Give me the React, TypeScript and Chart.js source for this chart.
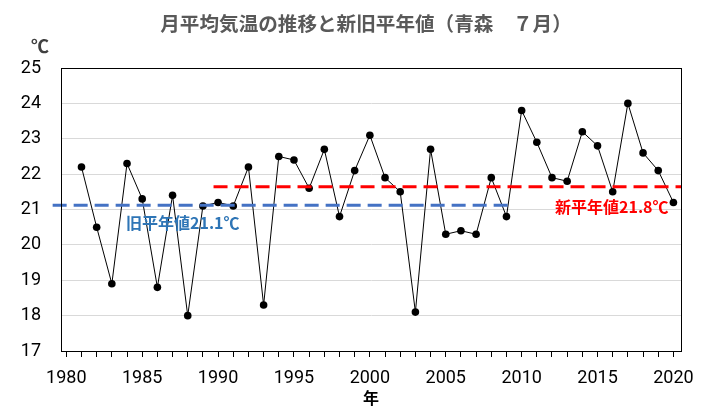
import React, { useEffect, useRef } from "react";
import { Chart, registerables } from "chart.js";

Chart.register(...registerables);

const years: number[] = [
  1981, 1982, 1983, 1984, 1985, 1986, 1987, 1988, 1989, 1990,
  1991, 1992, 1993, 1994, 1995, 1996, 1997, 1998, 1999, 2000,
  2001, 2002, 2003, 2004, 2005, 2006, 2007, 2008, 2009, 2010,
  2011, 2012, 2013, 2014, 2015, 2016, 2017, 2018, 2019, 2020,
];
const temps: number[] = [
  22.2, 20.5, 18.9, 22.3, 21.3, 18.8, 21.4, 18.0, 21.1, 21.2,
  21.1, 22.2, 18.3, 22.5, 22.4, 21.6, 22.7, 20.8, 22.1, 23.1,
  21.9, 21.5, 18.1, 22.7, 20.3, 20.4, 20.3, 21.9, 20.8, 23.8,
  22.9, 21.9, 21.8, 23.2, 22.8, 21.5, 24.0, 22.6, 22.1, 21.2,
];
const xTickYears: number[] = [
  1980, 1981, 1982, 1983, 1984, 1985, 1986, 1987, 1988, 1989, 1990,
  1991, 1992, 1993, 1994, 1995, 1996, 1997, 1998, 1999, 2000,
  2001, 2002, 2003, 2004, 2005, 2006, 2007, 2008, 2009, 2010,
  2011, 2012, 2013, 2014, 2015, 2016, 2017, 2018, 2019, 2020,
];
const oldNormalValue = 21.12;
const oldNormalSpan: number[] = [1979.1, 2009.5];
const newNormalValue = 21.64;
const newNormalSpan: number[] = [1989.7, 2020.5];
const titleText = "月平均気温の推移と新旧平年値（青森　７月）";
const oldNormalLabel = "旧平年値21.1℃";
const newNormalLabel = "新平年値21.8℃";
const unitLabel = "℃";
const xAxisLabel = "年";

const CJK = "'Noto Sans CJK JP', 'Noto Sans', sans-serif";
const NUM = "Roboto, 'Noto Sans', sans-serif";

const overlayPlugin = {
  id: "overlay",
  afterDraw(chart: any) {
    const { ctx, chartArea } = chart;
    ctx.save();
    // box border
    ctx.strokeStyle = "#000";
    ctx.lineWidth = 1;
    ctx.strokeRect(
      Math.round(chartArea.left) + 0.5,
      Math.round(chartArea.top) + 0.5,
      Math.round(chartArea.right - chartArea.left),
      Math.round(chartArea.bottom - chartArea.top)
    );
    // title
    ctx.font = `bold 19.6px ${CJK}`;
    ctx.fillStyle = "#595959";
    ctx.textAlign = "center";
    ctx.textBaseline = "middle";
    ctx.fillText(titleText, 366, 24);
    // unit
    ctx.font = `bold 18px ${CJK}`;
    ctx.fillStyle = "#404040";
    ctx.fillText(unitLabel, 40, 46);
    // normal labels
    ctx.font = `bold 16px ${CJK}`;
    ctx.textAlign = "left";
    ctx.fillStyle = "#2E75B6";
    ctx.fillText(oldNormalLabel, 126, 223);
    ctx.fillStyle = "#FF0000";
    ctx.fillText(newNormalLabel, 555, 207);
    ctx.restore();
  },
};

export default function App() {
  const canvasRef = useRef<HTMLCanvasElement | null>(null);

  useEffect(() => {
    document.body.style.margin = "0";
    const canvas = canvasRef.current;
    if (!canvas) return;
    const chart = new Chart(canvas, {
      type: "line",
      data: {
        datasets: [
          {
            label: "new",
            data: newNormalSpan.map((x) => ({ x, y: newNormalValue })),
            borderColor: "#FF0000",
            borderWidth: 3,
            borderDash: [14, 7],
            pointRadius: 0,
            fill: false,
            clip: false as any,
          },
          {
            label: "old",
            data: oldNormalSpan.map((x) => ({ x, y: oldNormalValue })),
            borderColor: "#4472C4",
            borderWidth: 3,
            borderDash: [14, 7],
            pointRadius: 0,
            fill: false,
            clip: false as any,
          },
          {
            label: "temp",
            data: years.map((x, i) => ({ x, y: temps[i] })),
            borderColor: "#000",
            borderWidth: 1,
            pointRadius: 3.8,
            pointBackgroundColor: "#000",
            pointBorderColor: "#000",
            pointBorderWidth: 0,
            fill: false,
            tension: 0,
          },
        ],
      },
      options: {
        animation: false,
        responsive: false,
        layout: { padding: { left: 0, right: 37, top: 68, bottom: 0 } },
        plugins: {
          legend: { display: false },
          tooltip: { enabled: false },
          title: { display: false },
        },
        scales: {
          x: {
            type: "linear",
            min: 1979.65,
            max: 2020.5,
            afterBuildTicks: (scale: any) => {
              scale.ticks = xTickYears.map((v) => ({ value: v }));
            },
            afterFit: (scale: any) => {
              scale.height = 65;
            },
            ticks: {
              autoSkip: false,
              maxRotation: 0,
              minRotation: 0,
              padding: 11,
              color: "#000",
              font: { family: NUM, size: 18 },
              callback: (v: any) => (Number(v) % 5 === 0 ? String(v) : ""),
            },
            grid: {
              drawOnChartArea: false,
              drawTicks: true,
              tickLength: 6,
              color: "#000",
              tickColor: "#000",
            },
            border: { color: "#000", width: 1 },
            title: {
              display: true,
              text: xAxisLabel,
              color: "#000",
              font: { family: CJK, size: 16, weight: "bold" },
              padding: { top: 0, bottom: 8 },
            },
          },
          y: {
            min: 17,
            max: 25,
            afterFit: (scale: any) => {
              scale.width = 61;
            },
            ticks: {
              stepSize: 1,
              padding: 20,
              color: "#000",
              font: { family: NUM, size: 18 },
            },
            grid: {
              color: "#D9D9D9",
              drawTicks: false,
              lineWidth: 1,
            },
            border: { color: "#000", width: 1 },
          },
        },
      },
      plugins: [overlayPlugin],
    });
    return () => chart.destroy();
  }, []);

  return (
    <div style={{ width: 718, height: 416 }}>
      <canvas ref={canvasRef} width={718} height={416} />
    </div>
  );
}
